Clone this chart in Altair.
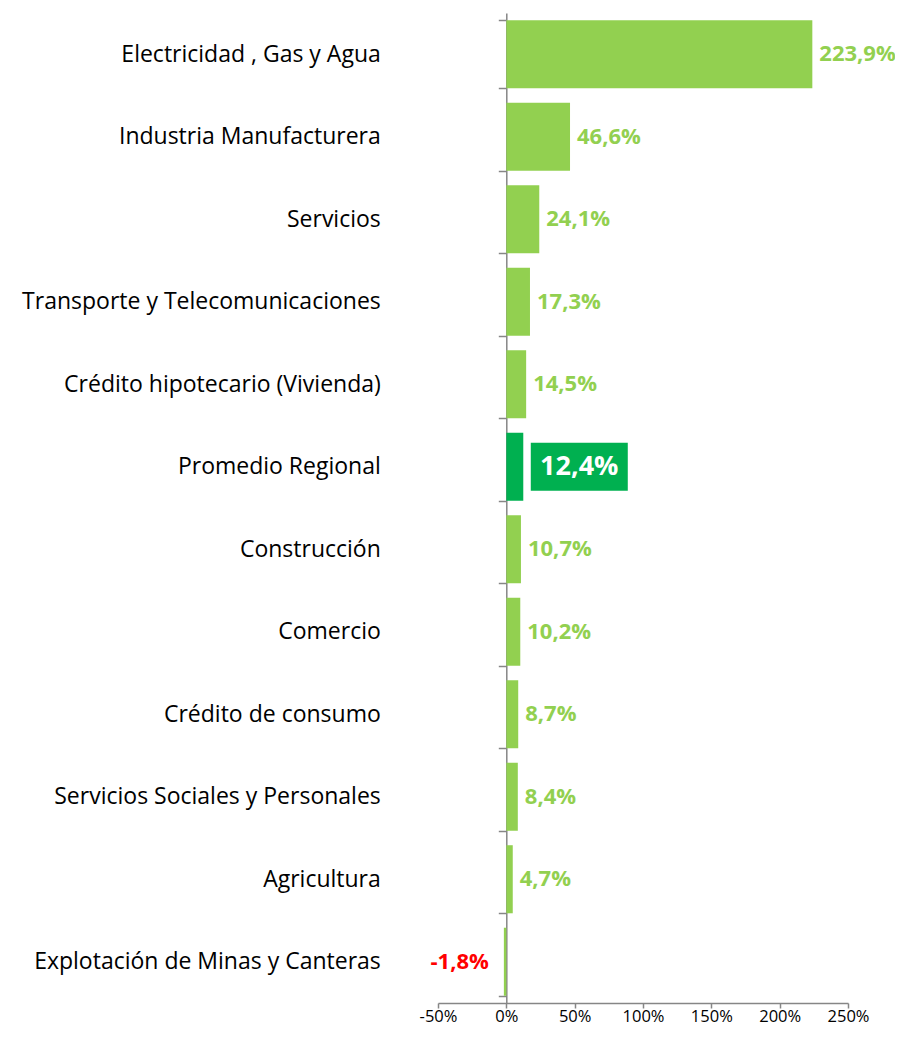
import altair as alt
import pandas as pd

categories = [
    "Electricidad , Gas y Agua",
    "Industria Manufacturera",
    "Servicios ",
    "Transporte y Telecomunicaciones",
    "Crédito hipotecario (Vivienda)",
    "Promedio Regional",
    "Construcción",
    "Comercio",
    "Crédito de consumo",
    "Servicios Sociales y Personales",
    "Agricultura",
    "Explotación de Minas y Canteras",
]
values = [223.9, 46.6, 24.1, 17.3, 14.5, 12.4, 10.7, 10.2, 8.7, 8.4, 4.7, -1.8]
labels = ["223,9%", "46,6%", "24,1%", "17,3%", "14,5%", "12,4%", "10,7%",
          "10,2%", "8,7%", "8,4%", "4,7%", "-1,8%"]
x_ticks = [-50, 0, 50, 100, 150, 200, 250]

kind = []
for c, v in zip(categories, values):
    if c == "Promedio Regional":
        kind.append("avg")
    elif v < 0:
        kind.append("neg")
    else:
        kind.append("pos")

df = pd.DataFrame({"cat": categories, "val": values, "lab": labels, "kind": kind})

FONT = "Open Sans"
W, H = 410, 990

y_enc = alt.Y("cat:N", sort=categories, title=None,
              scale=alt.Scale(paddingInner=0.175, paddingOuter=0.0875),
              axis=alt.Axis(offset=-68.3, tickBand="extent", domainColor="#868686",
                            domainWidth=1.5, tickColor="#868686", tickWidth=1.5,
                            tickSize=8, labelFont=FONT, labelFontSize=23,
                            labelColor="#000000", labelPadding=118, labelLimit=500))
x_enc = alt.X("val:Q", title=None,
              scale=alt.Scale(domain=[-50, 250], nice=False, zero=False),
              axis=alt.Axis(values=x_ticks, labelExpr="datum.value + '%'",
                            grid=False, domainColor="#868686", domainWidth=1.5,
                            tickColor="#868686", tickWidth=1.5, tickSize=5,
                            labelFont=FONT, labelFontSize=16.5, labelColor="#000000",
                            labelPadding=0, labelOverlap=False,
                            labelBound=False, labelFlush=False))

base = alt.Chart(df)

bars = base.mark_bar().encode(
    y=y_enc, x=x_enc,
    color=alt.Color("kind:N", legend=None,
                    scale=alt.Scale(domain=["pos", "avg", "neg"],
                                    range=["#92D050", "#00B050", "#92D050"])),
)

pos_text = base.transform_filter("datum.kind == 'pos'").mark_text(
    align="left", baseline="middle", dx=7, font=FONT, fontSize=22,
    fontWeight="bold", color="#92D050"
).encode(y=alt.Y("cat:N", sort=categories), x="val:Q", text="lab:N")

neg_text = base.transform_filter("datum.kind == 'neg'").mark_text(
    align="right", baseline="middle", dx=-15, font=FONT, fontSize=22,
    fontWeight="bold", color="#FF0000"
).encode(y=alt.Y("cat:N", sort=categories), x="val:Q", text="lab:N")

avg_box = base.transform_filter("datum.kind == 'avg'").mark_point(
    shape="M-1,-0.495H1V0.495H-1Z", filled=True, opacity=1,
    color="#00B050", size=97 * 97, xOffset=56
).encode(y=alt.Y("cat:N", sort=categories), x="val:Q")

avg_text = base.transform_filter("datum.kind == 'avg'").mark_text(
    align="center", baseline="middle", dx=56, font=FONT, fontSize=27,
    fontWeight="bold", color="#FFFFFF"
).encode(y=alt.Y("cat:N", sort=categories), x="val:Q", text="lab:N")

chart = alt.layer(bars, pos_text, neg_text, avg_box, avg_text).properties(
    width=W, height=H, background="#FFFFFF",
    autosize=alt.AutoSizeParams(type="none"),
    padding={"left": 430, "top": 5, "right": 47, "bottom": 22},
).configure_view(stroke=None)

chart.save("out.html", embed_options={"renderer": "svg", "actions": False})
